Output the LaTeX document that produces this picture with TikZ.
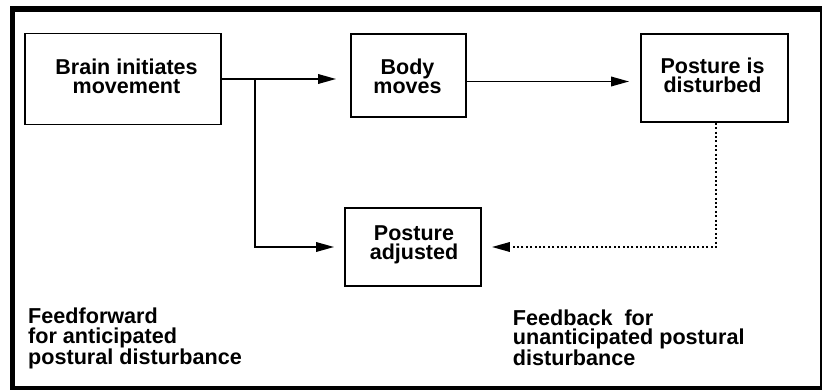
\documentclass[tikz,border=0pt]{standalone}
\usepackage{fontspec}
\setmainfont{Liberation Sans}
\usetikzlibrary{arrows.meta}
\begin{document}
\begin{tikzpicture}[x=1pt,y=-1pt,
  box/.style={draw=black, line width=1.8pt, rectangle, inner sep=0pt},
  lbl/.style={font=\bfseries\fontsize{21.5}{19.3}\selectfont, align=center, inner sep=0pt},
  note/.style={font=\bfseries\fontsize{21.6}{19.3}\selectfont, align=left, inner sep=0pt, anchor=north west},
  arr/.style={line width=1.8pt, -{Triangle[length=18pt,width=9.5pt]}},
  dotarr/.style={line width=1.8pt, dash pattern=on 2pt off 2.4pt, -{Triangle[length=18pt,width=9.5pt]}}
]
% canvas and heavy outer frame
\useasboundingbox (0,0) rectangle (822,390);
\fill[white] (0,0) rectangle (822,390);
\fill[black] (10,6) rectangle (821.7,390);
\fill[white] (15,12.5) rectangle (819.6,386);

% boxes
\node[box, minimum width=196pt, minimum height=91pt] (brain) at (123,79) {};
\node[lbl] (brainT) at (126.5,76) {Brain initiates\\movement};

\node[box, minimum width=115pt, minimum height=83pt] (body) at (408.5,75.5) {};
\node[lbl] (bodyT) at (407.5,76) {Body\\moves};

\node[box, minimum width=147pt, minimum height=88pt] (dist) at (714.5,78) {};
\node[lbl] (distT) at (712.5,75.5) {Posture is\\disturbed};

\node[box, minimum width=136pt, minimum height=78pt] (adj) at (413,247) {};
\node[lbl] (adjT) at (414,245) {Posture\\adjusted};

% connectors
\coordinate (split) at (255,79);
\draw[arr, shorten >=14pt] (brain.east) -- (brain.east -| body.west);
\draw[arr, shorten >=10pt] (split) |- (adj.west);
\draw[arr, shorten >=11pt] ([yshift=-6pt]body.east) -- ([yshift=-6pt]body.east -| dist.west);
\draw[dotarr, shorten >=10pt] ([xshift=1.5pt]dist.south) |- (adj.east);

% captions
\node[note] (ff) at (28,308) {Feedforward\\for anticipated\\postural disturbance};
\node[note] (fb) at (512.7,309.5) {Feedback\ \ for\\unanticipated postural\\disturbance};
\end{tikzpicture}
\end{document}
